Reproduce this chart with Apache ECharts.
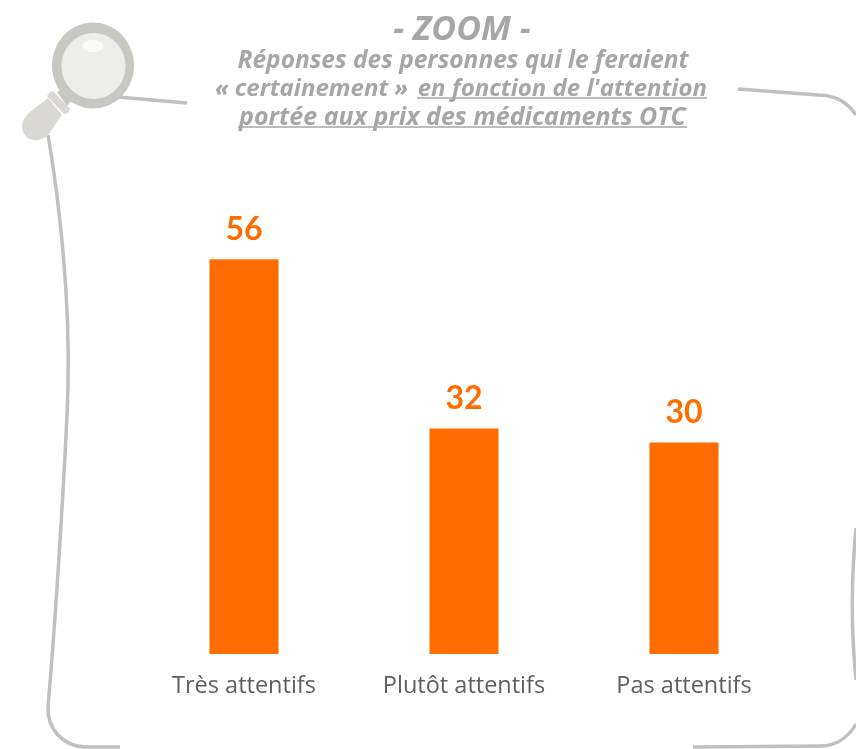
<!DOCTYPE html>
<html>
<head>
<meta charset="utf-8">
<title>Zoom</title>
<script src="https://cdn.jsdelivr.net/npm/echarts@6/dist/echarts.min.js"></script>
<style>
  html, body { margin: 0; padding: 0; background: #fff; }
  #chart { width: 856px; height: 749px; }
</style>
</head>
<body>
<div id="chart"></div>
<script>
var categories = ['Très attentifs', 'Plutôt attentifs', 'Pas attentifs'];
var values = [56, 32, 30];
var titleZoom = '- ZOOM -';
var titleLine1 = 'Réponses des personnes qui le feraient';
var titleLine2a = '« certainement »';
var titleLine2b = "en fonction de l'attention";
var titleLine3 = 'portée aux prix des médicaments OTC';

var FONT = 'Open Sans';
var GREY = '#a6a6a6';
var FRAME = '#c0c0c0';
var ORANGE = '#ff6d00';

var chart = echarts.init(document.getElementById('chart'));

// the graphic component has no plain svg path type, so register each one
var pathCount = 0;
function svgPath(d, style, z) {
    var name = 'svgPath' + (pathCount++);
    echarts.graphic.registerShape(name, echarts.graphic.extendPath(d, {}));
    return { type: name, z: z, style: style };
}

function titleText(text, x, y, align, size) {
    return {
        type: 'text', z: 5,
        style: {
            text: text, x: x, y: y, align: align, verticalAlign: 'middle',
            fontFamily: FONT, fontWeight: 'bold', fontStyle: 'italic', fontSize: size, fill: GREY
        }
    };
}

function underline(x1, x2, y) {
    return {
        type: 'line', z: 5,
        shape: { x1: x1, y1: y, x2: x2, y2: y },
        style: { stroke: GREY, lineWidth: 1.6 }
    };
}

function framePath(d) {
    return svgPath(d, { fill: null, stroke: FRAME, lineWidth: 3.5 }, 1);
}

var decoration = [
    // hand drawn frame, broken by the title and the loupe
    framePath('M118 97 L187 103'),
    framePath('M738 89 L818 95 C835 95 848 103 856 115'),
    framePath('M856 528 C851 580 851 630 856 680'),
    framePath('M856 724 C848 738 835 746 820 746 L693 747'),
    framePath('M120 747 L85 747 C62 746 47 728 48 707 C58 590 67 430 68 385 C70 300 60 205 48 135'),
    // loupe
    svgPath('M48 98 L62 115 L48 135 C42 141 30 143 25 135 C20 128 21 120 30 112 Z', { fill: '#d9d8d4' }, 3),
    svgPath('M50 92 L53 91 L70 109 L68 113 L64 114 L47 96 Z', { fill: '#d9d8d4' }, 3),
    svgPath('M57 92 L63 88 L72 100 L67 106 Z', { fill: '#c8c7c1' }, 3),
    { type: 'ellipse', z: 4, shape: { cx: 93, cy: 65.5, rx: 41, ry: 43 }, style: { fill: '#c8c7c1' } },
    { type: 'ellipse', z: 4, shape: { cx: 93.5, cy: 66, rx: 32, ry: 33 }, style: { fill: '#ededec' } },
    { type: 'ellipse', z: 4, shape: { cx: 93, cy: 46, rx: 10.5, ry: 6 }, style: { fill: '#fafafa' } },
    titleText(titleZoom, 462, 30, 'center', 34),
    titleText(titleLine1, 463, 61, 'center', 24.5),
    titleText(titleLine2a, 408, 89, 'right', 24),
    titleText(titleLine2b, 707, 89, 'right', 24),
    titleText(titleLine3, 462.5, 118, 'center', 25),
    underline(417, 707, 98),
    underline(238, 687, 127)
];

var option = {
    animation: false,
    backgroundColor: '#fff',
    grid: { left: 134, width: 660, top: 231, height: 423 },
    xAxis: {
        type: 'category',
        data: categories,
        axisLine: { show: false },
        axisTick: { show: false },
        axisLabel: { color: '#5f5f5f', fontFamily: FONT, fontSize: 23.5, margin: 20 }
    },
    yAxis: { type: 'value', min: 0, max: 60, show: false },
    series: [{
        type: 'bar',
        data: values,
        barWidth: 69,
        itemStyle: { color: ORANGE },
        label: {
            show: true, position: 'top', distance: 14,
            color: ORANGE, fontFamily: 'Lato', fontWeight: 'bold', fontSize: 32
        }
    }],
    graphic: decoration
};

chart.setOption(option);
</script>
</body>
</html>
